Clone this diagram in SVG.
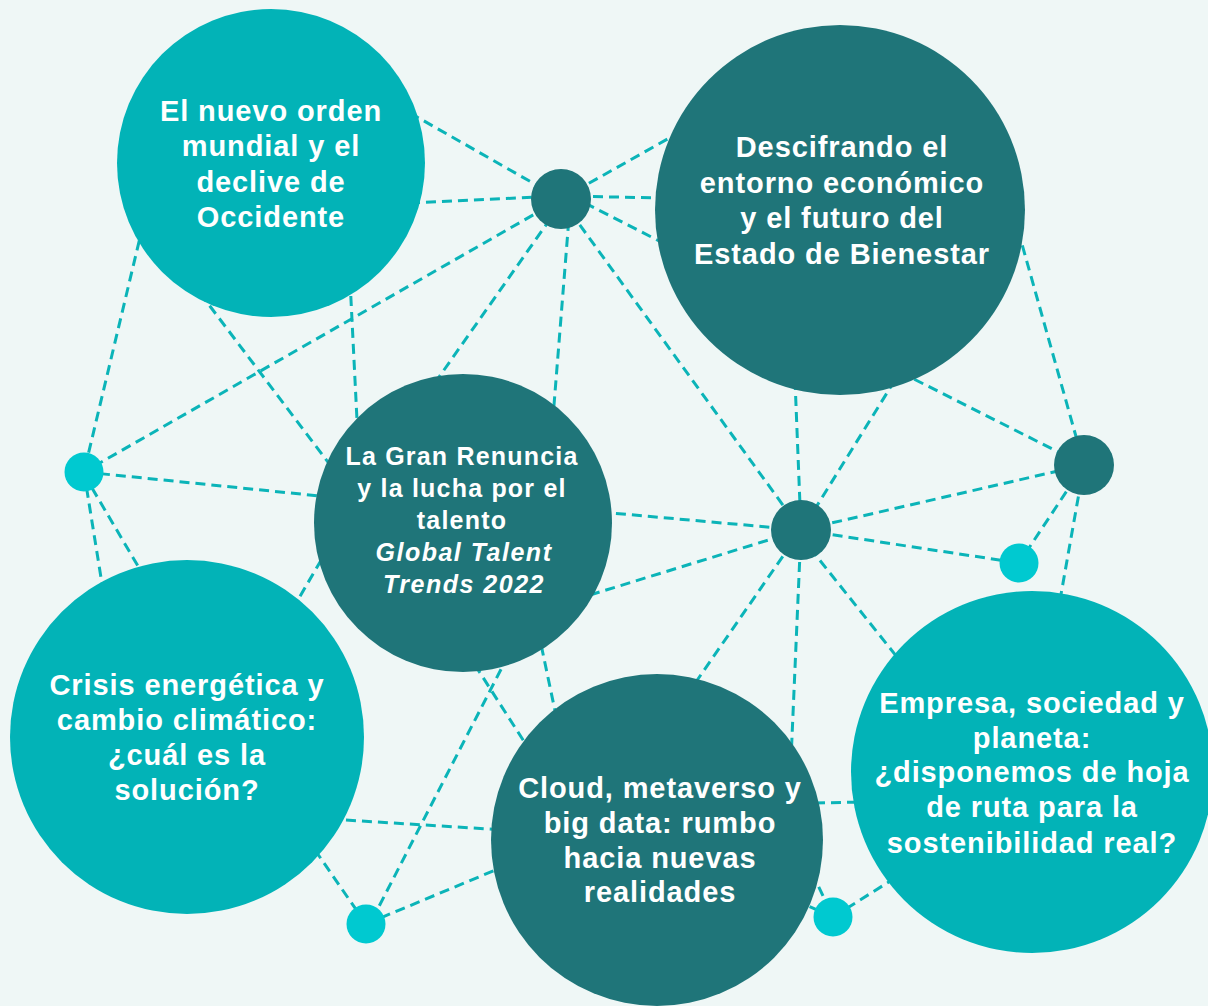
<svg xmlns="http://www.w3.org/2000/svg" width="1208" height="1006" viewBox="0 0 1208 1006">
<style>
.bg{fill:#eff7f6}
.lt{fill:#02b3b7}
.dk{fill:#1f7579}
.cy{fill:#00c9d0}
.ln line{stroke:#0bb4b8;stroke-width:3;stroke-dasharray:10 6;fill:none}
text{font-family:"Liberation Sans",Arial,sans-serif;font-weight:700;fill:#ffffff;text-anchor:middle}
.big{font-size:29px;letter-spacing:0.9px}
.sm{font-size:25px;letter-spacing:1.2px}
.it{font-style:italic;letter-spacing:1.5px}
</style>
<rect class="bg" x="0" y="0" width="1208" height="1006"/>
<g id="connectors" class="ln">
<line x1="410" y1="113" x2="561" y2="199"/>
<line x1="410" y1="203" x2="561" y2="196"/>
<line x1="561" y1="199" x2="680" y2="132"/>
<line x1="561" y1="196" x2="665" y2="198"/>
<line x1="585" y1="203" x2="665" y2="244"/>
<line x1="561" y1="199" x2="84" y2="472"/>
<line x1="560" y1="205" x2="425" y2="397"/>
<line x1="570" y1="205" x2="552" y2="430"/>
<line x1="561" y1="199" x2="801" y2="530"/>
<line x1="143" y1="225" x2="84" y2="472"/>
<line x1="200" y1="293" x2="340" y2="478"/>
<line x1="350" y1="280" x2="358" y2="440"/>
<line x1="84" y1="472" x2="330" y2="497"/>
<line x1="84" y1="472" x2="103" y2="590"/>
<line x1="92" y1="488" x2="145" y2="578"/>
<line x1="292" y1="610" x2="330" y2="545"/>
<line x1="330" y1="819" x2="505" y2="830"/>
<line x1="315" y1="850" x2="366" y2="924"/>
<line x1="372" y1="920" x2="512" y2="648"/>
<line x1="366" y1="924" x2="505" y2="866"/>
<line x1="466" y1="651" x2="534" y2="757"/>
<line x1="538" y1="630" x2="558" y2="725"/>
<line x1="600" y1="512" x2="801" y2="530"/>
<line x1="590" y1="595" x2="801" y2="530"/>
<line x1="795" y1="380" x2="801" y2="530"/>
<line x1="895" y1="380" x2="805" y2="525"/>
<line x1="900" y1="372" x2="1084" y2="465"/>
<line x1="1018" y1="230" x2="1084" y2="465"/>
<line x1="801" y1="530" x2="1084" y2="465"/>
<line x1="801" y1="530" x2="1019" y2="563"/>
<line x1="1084" y1="465" x2="1019" y2="563"/>
<line x1="1084" y1="465" x2="1060" y2="600"/>
<line x1="801" y1="530" x2="680" y2="705"/>
<line x1="801" y1="530" x2="791" y2="760"/>
<line x1="810" y1="548" x2="905" y2="667"/>
<line x1="815" y1="803" x2="865" y2="802"/>
<line x1="805" y1="858" x2="833" y2="917"/>
<line x1="795" y1="900" x2="833" y2="917"/>
<line x1="833" y1="917" x2="895" y2="878"/>
</g>
<g id="n1">
<circle class="lt" cx="271" cy="163" r="154"/>
<text class="big"><tspan x="271" y="121">El nuevo orden</tspan><tspan x="271" y="156">mundial y el</tspan><tspan x="271" y="192">declive de</tspan><tspan x="271" y="227">Occidente</tspan></text>
</g>
<g id="n2">
<circle class="dk" cx="840" cy="210" r="185"/>
<text class="big"><tspan x="842" y="157">Descifrando el</tspan><tspan x="842" y="193">entorno económico</tspan><tspan x="842" y="228">y el futuro del</tspan><tspan x="842" y="264">Estado de Bienestar</tspan></text>
</g>
<g id="n3">
<circle class="dk" cx="463" cy="523" r="149"/>
<text class="sm"><tspan x="462" y="465">La Gran Renuncia</tspan><tspan x="462" y="497">y la lucha por el</tspan><tspan x="462" y="529">talento</tspan><tspan x="464" y="561" class="it">Global Talent</tspan><tspan x="464" y="593" class="it">Trends 2022</tspan></text>
</g>
<g id="n4">
<circle class="lt" cx="187" cy="737" r="177"/>
<text class="big"><tspan x="187" y="695">Crisis energética y</tspan><tspan x="187" y="730">cambio climático:</tspan><tspan x="187" y="765">¿cuál es la</tspan><tspan x="187" y="800">solución?</tspan></text>
</g>
<g id="n5">
<circle class="dk" cx="657" cy="840" r="166"/>
<text class="big"><tspan x="660" y="798">Cloud, metaverso y</tspan><tspan x="660" y="833">big data: rumbo</tspan><tspan x="660" y="868">hacia nuevas</tspan><tspan x="660" y="902">realidades</tspan></text>
</g>
<g id="n6">
<circle class="lt" cx="1032" cy="772" r="181"/>
<text class="big"><tspan x="1032" y="713">Empresa, sociedad y</tspan><tspan x="1032" y="748">planeta:</tspan><tspan x="1032" y="782">¿disponemos de hoja</tspan><tspan x="1032" y="817">de ruta para la</tspan><tspan x="1032" y="853">sostenibilidad real?</tspan></text>
</g>
<g id="dotA"><circle class="dk" cx="561" cy="199" r="30"/></g>
<g id="dotB"><circle class="cy" cx="84" cy="472" r="19.5"/></g>
<g id="dotC"><circle class="dk" cx="801" cy="530" r="30"/></g>
<g id="dotE"><circle class="dk" cx="1084" cy="465" r="30"/></g>
<g id="dotF"><circle class="cy" cx="1019" cy="563" r="19.5"/></g>
<g id="dotD"><circle class="cy" cx="366" cy="924" r="19.5"/></g>
<g id="dotG"><circle class="cy" cx="833" cy="917" r="19.5"/></g>
</svg>
